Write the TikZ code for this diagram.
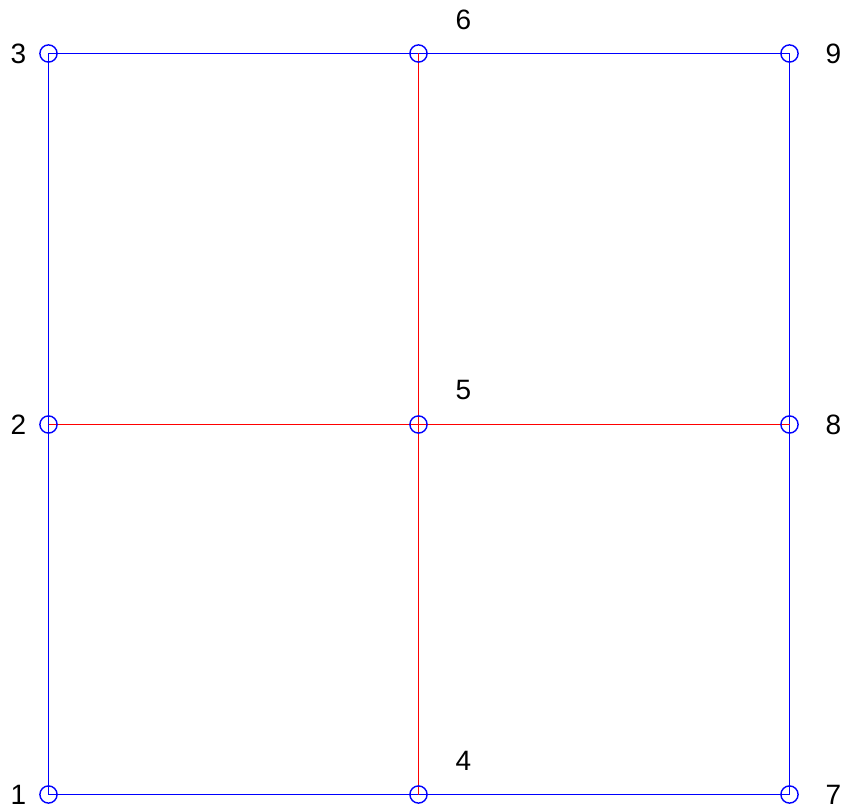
\documentclass[tikz,border=0pt]{standalone}
\usepackage{fontspec}
\setmainfont{Liberation Sans}
\usetikzlibrary{backgrounds}

\begin{document}
\begin{tikzpicture}[
  x=0.5pt, y=-0.5pt,
  vtx/.style={draw=blue, circle, inner sep=0pt, minimum size=8.6pt, line width=0.7pt},
  lbl/.style={font=\fontsize{14}{17}\selectfont, inner sep=0pt},
  rim/.style={draw=blue, line width=0.55pt},
  cross/.style={draw=red, line width=0.55pt}
]
  \useasboundingbox (0,0) rectangle (847,812);

  % vertices, numbered column by column
  \node[vtx, label={[lbl,xshift=-15pt]center:1}] (n1) at (48.5,794.5) {};
  \node[vtx, label={[lbl,xshift=-15pt]center:2}] (n2) at (48.5,424.5) {};
  \node[vtx, label={[lbl,xshift=-15pt]center:3}] (n3) at (48.5,53.5) {};
  \node[vtx, label={[lbl,xshift=22.5pt,yshift=17pt]center:4}] (n4) at (418.5,794.5) {};
  \node[vtx, label={[lbl,xshift=22.5pt,yshift=17pt]center:5}] (n5) at (418.5,424.5) {};
  \node[vtx, label={[lbl,xshift=22.5pt,yshift=17pt]center:6}] (n6) at (418.5,53.5) {};
  \node[vtx, label={[lbl,xshift=22pt]center:7}] (n7) at (789.5,794.5) {};
  \node[vtx, label={[lbl,xshift=22pt]center:8}] (n8) at (789.5,424.5) {};
  \node[vtx, label={[lbl,xshift=22pt]center:9}] (n9) at (789.5,53.5) {};

  \begin{scope}[on background layer]
    % boundary edges
    \draw[rim] (n1.center) -- (n4.center) -- (n7.center) -- (n8.center)
      -- (n9.center) -- (n6.center) -- (n3.center) -- (n2.center) -- (n1.center);
    % interior edges
    \draw[cross] (n2.center) -- (n5.center) -- (n8.center);
    \draw[cross] (n4.center) -- (n5.center) -- (n6.center);
  \end{scope}
\end{tikzpicture}
\end{document}
